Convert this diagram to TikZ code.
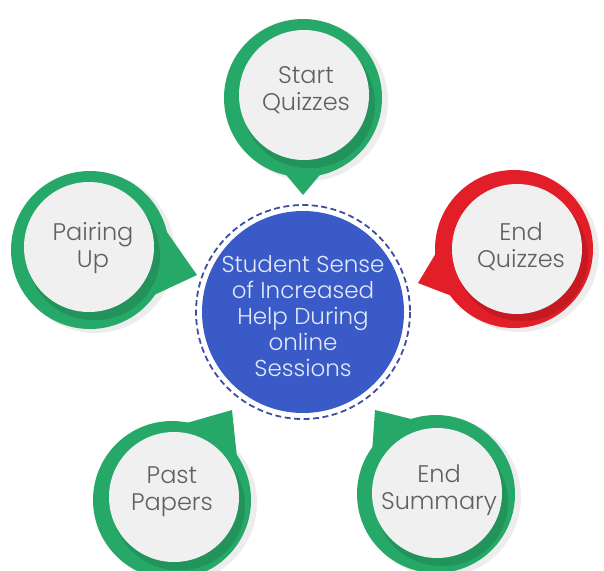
\documentclass[tikz,border=0pt]{standalone}
\usepackage{fontspec}
\setmainfont{Poppins Light}
\usetikzlibrary{calc}

\definecolor{bubblegreen}{RGB}{38,168,104}
\definecolor{bubblered}{RGB}{226,30,40}
\definecolor{hubblue}{RGB}{58,90,200}
\definecolor{hubdash}{RGB}{62,78,160}
\definecolor{discgray}{RGB}{240,240,240}
\definecolor{labelgray}{RGB}{96,96,96}
\definecolor{hubtext}{RGB}{226,234,250}

\begin{document}
\begin{tikzpicture}[
x=1pt, y=-1pt,
outer shadow/.style={black, opacity=0.07},
inner shadow/.style={black, opacity=0.12},
disc/.style={fill=discgray},
item/.style={text=labelgray, align=center, font=\fontsize{24}{27}\selectfont},
hub/.style={text=hubtext, align=center, font=\fontsize{23}{26}\selectfont}
]
\useasboundingbox (0,0) rectangle (604,570);

% Start Quizzes
\coordinate (C1) at (303,98);
\coordinate (T1) at (303,195);
\fill[outer shadow] ($(C1)+(5,3)$) circle (80);
\fill[bubblegreen] (T1) -- ($(T1)+(230:60)$) -- ($(T1)+(310:60)$) -- cycle;
\fill[bubblegreen] (C1) circle (79);
\fill[inner shadow] ($(C1)+(5,4)$) circle (66) ($(C1)+(8,6)$) circle (64);
\fill[disc] ($(C1)+(1,-3)$) circle (65);
\node[item] (start) at (306,90) {Start\\Quizzes};

% End Quizzes
\coordinate (C2) at (514,249);
\coordinate (T2) at (418,283);
\fill[outer shadow] ($(C2)+(5,3)$) circle (80);
\fill[bubblered] (T2) -- ($(T2)+(21:60)$) -- ($(T2)+(-59:60)$) -- cycle;
\fill[bubblered] (C2) circle (79);
\fill[inner shadow] ($(C2)+(7,6)$) circle (66) ($(C2)+(10,8)$) circle (64);
\fill[disc] ($(C2)+(3,0)$) circle (65);
\node[item] (endq) at (521,247) {End\\Quizzes};

% Pairing Up
\coordinate (C3) at (90,250);
\coordinate (T3) at (197,275);
\fill[outer shadow] ($(C3)+(5,3)$) circle (80);
\fill[bubblegreen] (T3) -- ($(T3)+(155:60)$) -- ($(T3)+(235:60)$) -- cycle;
\fill[bubblegreen] (C3) circle (79);
\fill[inner shadow] ($(C3)+(3,4)$) circle (66) ($(C3)+(6,6)$) circle (64);
\fill[disc] ($(C3)+(-1,-3)$) circle (65);
\node[item] (pair) at (93,248) {Pairing\\Up};

% Past Papers
\coordinate (C4) at (172,500);
\coordinate (T4) at (232,410);
\fill[outer shadow] ($(C4)+(5,3)$) circle (80);
\fill[bubblegreen] (T4) -- ($(T4)+(84:60)$) -- ($(T4)+(164:60)$) -- cycle;
\fill[bubblegreen] (C4) circle (79);
\fill[inner shadow] ($(C4)+(6,4)$) circle (66) ($(C4)+(9,6)$) circle (64);
\fill[disc] ($(C4)+(2,-3)$) circle (65);
\node[item] (past) at (172,492) {Past\\Papers};

% End Summary
\coordinate (C5) at (436,494);
\coordinate (T5) at (375,410);
\fill[outer shadow] ($(C5)+(5,3)$) circle (80);
\fill[bubblegreen] (T5) -- ($(T5)+(14:60)$) -- ($(T5)+(94:60)$) -- cycle;
\fill[bubblegreen] (C5) circle (79);
\fill[inner shadow] ($(C5)+(5,6)$) circle (66) ($(C5)+(8,8)$) circle (64);
\fill[disc] ($(C5)+(1,-1)$) circle (65);
\node[item] (endsum) at (439,490) {End\\Summary};

% centre circle
\coordinate (H) at (303,312);
\draw[hubdash, line width=1.8pt, dash pattern=on 6pt off 3.5pt] (H) circle (107);
\fill[hubblue] (H) circle (101);
\node[hub] (hub) at (303,316) {Student Sense\\of Increased\\Help During\\online\\Sessions};
\end{tikzpicture}
\end{document}
